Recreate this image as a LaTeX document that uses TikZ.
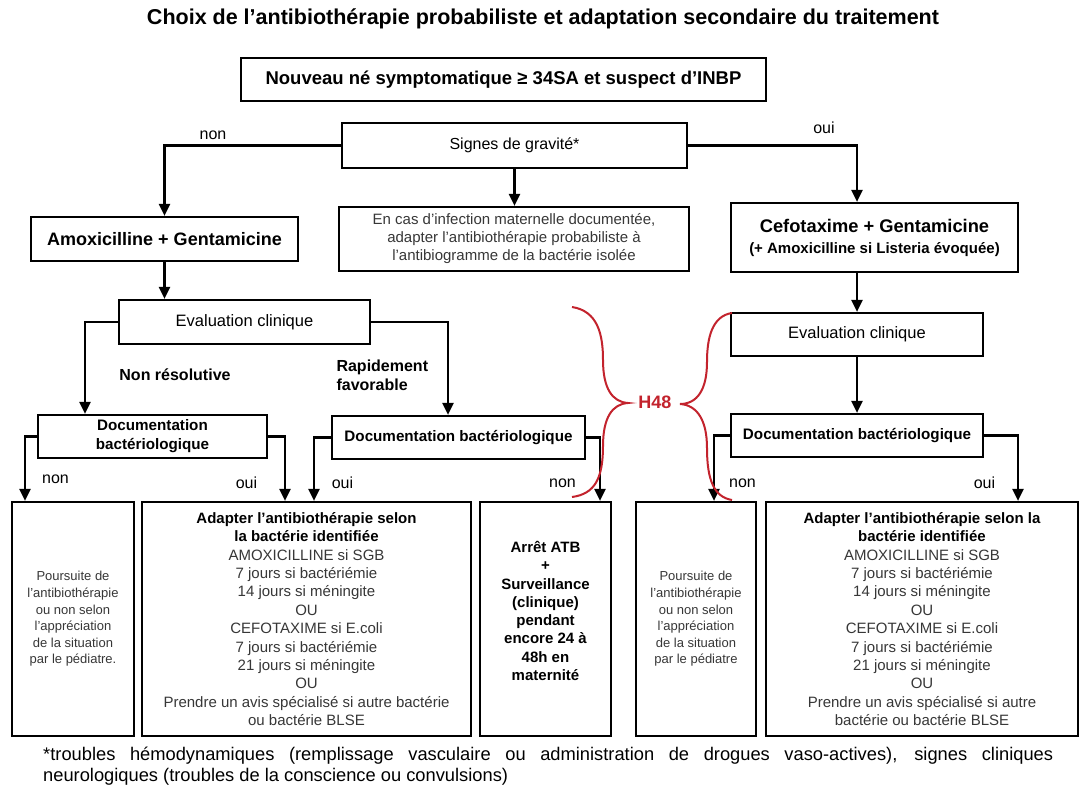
\documentclass[tikz,border=0pt]{standalone}
\usepackage{fontspec}
\setmainfont{Liberation Sans}
\usetikzlibrary{arrows.meta}
\definecolor{bracered}{RGB}{195,35,45}
\definecolor{txtgray}{RGB}{55,55,55}
\newcommand{\fsz}[2]{\fontsize{#1}{#2}\selectfont}
\begin{document}
\begin{tikzpicture}[x=1pt,y=-1pt,
  box/.style={draw, line width=2.2pt, inner sep=0pt, align=center},
  arr/.style={line width=2.2pt, -{Triangle[width=11pt,length=12pt]}},
  lab/.style={font=\fsz{16}{19}},
  blab/.style={font=\fsz{16}{19}\bfseries},
  brace/.style={draw=bracered, line width=2pt},
  thin/.style={font=\fsz{15}{18.4}, text=txtgray},
]
\useasboundingbox[fill=white] (0,0) rectangle (1080,789);

% title
\node[font=\fsz{21.5}{25}\bfseries] (title) at (543,19) {Choix de l’antibiothérapie probabiliste et adaptation secondaire du traitement};

% top boxes
\node[box, minimum width=525, minimum height=43, font=\fsz{18.5}{22}\bfseries] (start) at (503.5,79.5) {Nouveau né symptomatique ≥ 34SA et suspect d’INBP};
\node[box, minimum width=345, minimum height=45, font=\fsz{16}{19}] (signes) at (514.5,145.5) {Signes de gravité*};
\node[box, minimum width=350, minimum height=64, font=\fsz{15}{18}, text=txtgray] (mid) at (514,239) {En cas d’infection maternelle documentée,\\adapter l’antibiothérapie probabiliste à\\l’antibiogramme de la bactérie isolée};
\node[box, minimum width=267, minimum height=44, font=\fsz{18}{21}\bfseries] (amox) at (164.5,239) {Amoxicilline + Gentamicine};
\node[box, minimum width=287, minimum height=69, font=\fsz{18.3}{21}\bfseries] (cefo) at (874.5,237.5) {Cefotaxime + Gentamicine\\{\fsz{15}{21}(+ Amoxicilline si Listeria évoquée)}};

% evaluation
\node[box, minimum width=251, minimum height=44, font=\fsz{16.5}{19}] (evalL) at (244.5,322) {Evaluation clinique};
\node[box, minimum width=252, minimum height=43, font=\fsz{16.5}{19}] (evalR) at (857,334.5) {Evaluation clinique};

% documentation
\node[box, minimum width=229, minimum height=43, font=\fsz{15.2}{19}\bfseries] (docL) at (152.5,436.5) {Documentation\\bactériologique};
\node[box, minimum width=253, minimum height=43, font=\fsz{15.2}{19}\bfseries] (docM) at (458.5,437.5) {Documentation bactériologique};
\node[box, minimum width=252, minimum height=43, font=\fsz{15.2}{19}\bfseries] (docR) at (857,435.5) {Documentation bactériologique};

% bottom boxes
\node[box, minimum width=122, minimum height=234, font=\fsz{13}{16.6}, text=txtgray] (boxA) at (73,619) {Poursuite de\\l’antibiothérapie\\ou non selon\\l’appréciation\\de la situation\\par le pédiatre.};
\node[box, minimum width=329, minimum height=234, thin] (boxB) at (306.5,619) {{\color{black}\bfseries Adapter l’antibiothérapie selon}\\{\color{black}\bfseries la bactérie identifiée}\\AMOXICILLINE si SGB\\7 jours si bactériémie\\14 jours si méningite\\OU\\CEFOTAXIME si E.coli\\7 jours si bactériémie\\21 jours si méningite\\OU\\Prendre un avis spécialisé si autre bactérie\\ou bactérie BLSE};
\node[box, minimum width=131, minimum height=234] (boxC) at (545.5,619) {};
\node[font=\fsz{15}{18.3}\bfseries, align=center] (boxCtxt) at (545.5,611) {Arrêt ATB\\+\\Surveillance\\(clinique)\\pendant\\encore 24 à\\48h en\\maternité};
\node[box, minimum width=120, minimum height=234, font=\fsz{13}{16.6}, text=txtgray] (boxD) at (696,619) {Poursuite de\\l’antibiothérapie\\ou non selon\\l’appréciation\\de la situation\\par le pédiatre};
\node[box, minimum width=312, minimum height=234, thin] (boxE) at (922,619) {{\color{black}\bfseries Adapter l’antibiothérapie selon la}\\{\color{black}\bfseries bactérie identifiée}\\AMOXICILLINE si SGB\\7 jours si bactériémie\\14 jours si méningite\\OU\\CEFOTAXIME si E.coli\\7 jours si bactériémie\\21 jours si méningite\\OU\\Prendre un avis spécialisé si autre\\bactérie ou bactérie BLSE};

% connectors
\draw[arr] (signes.west) -| (amox.north);
\draw[arr] (signes.east) -| ([xshift=-17.5]cefo.north);
\draw[arr] (signes.south) -- (signes.south |- mid.north);
\draw[arr] (amox.south) -- (amox.south |- evalL.north);
\draw[arr] (evalL.west) -| ([xshift=-67.5]docL.north);
\draw[arr] (evalL.east) -| ([xshift=-10.5]docM.north);
\draw[arr] (evalR.north |- cefo.south) -- (evalR.north);
\draw[arr] (evalR.south) -- (docR.north);
\draw[arr] (docL.west) -| ([xshift=-48]boxA.north);
\draw[arr] (docL.east) -| ([xshift=-21.5]boxB.north);
\draw[arr] (docM.west) -| ([xshift=7.5]boxB.north);
\draw[arr] (docM.east) -| ([xshift=54.5]boxC.north);
\draw[arr] (docR.west) -| ([xshift=18]boxD.north);
\draw[arr] (docR.east) -| ([xshift=96]boxE.north);

% labels
\node[lab] (l1) at (213,135) {non};
\node[lab] (l2) at (824,128) {oui};
\node[blab] (l3) at (175,375) {Non résolutive};
\node[blab, anchor=west, align=left] (l4) at (333,375.5) {Rapidement\\favorable};
\node[lab] (l5) at (55.5,479) {non};
\node[lab] (l6) at (246.5,483) {oui};
\node[lab] (l7) at (342.5,483) {oui};
\node[lab] (l8) at (562.5,483) {non};
\node[lab] (l9) at (742.5,483) {non};
\node[lab] (l10) at (984.5,483) {oui};

% H48 braces
\draw[brace] (572,307) .. controls (598,311) and (603,335) .. (603,360)
  .. controls (603,388) and (612,402) .. (628,403)
  .. controls (612,404) and (603,418) .. (603,446)
  .. controls (603,478) and (595,494) .. (572,497);
\draw[brace] (732,313) .. controls (712,316) and (707,338) .. (707,362)
  .. controls (707,390) and (697,404) .. (680,404)
  .. controls (697,405) and (707,420) .. (707,448)
  .. controls (707,480) and (714,497) .. (732,500);
\node[font=\fsz{18}{21}\bfseries, text=bracered] (h48) at (655,402) {H48};

% footnote
\node[anchor=west, font=\fsz{18.3}{21}, inner sep=0pt] (fn1) at (43,756) {\makebox[1010pt][s]{*troubles hémodynamiques (remplissage vasculaire ou administration de drogues vaso-actives), signes cliniques}};
\node[anchor=west, font=\fsz{18.3}{21}, inner sep=0pt] (fn2) at (43,777) {neurologiques (troubles de la conscience ou convulsions)};
\end{tikzpicture}
\end{document}
